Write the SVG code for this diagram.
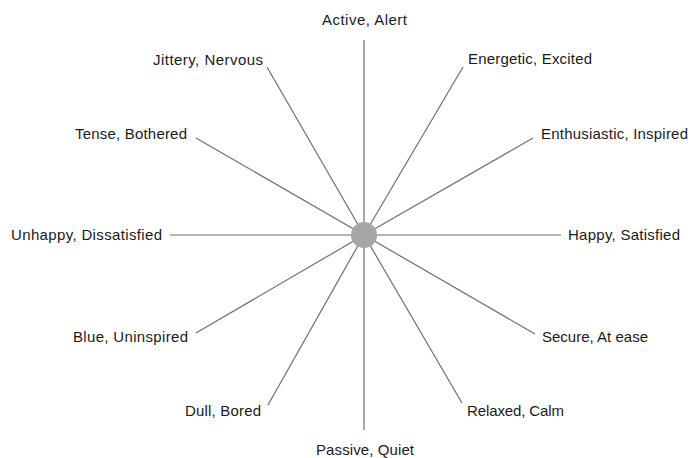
<svg xmlns="http://www.w3.org/2000/svg" width="693" height="458" viewBox="0 0 693 458">
<style>
.spoke{stroke:#6e6e6e;stroke-width:1.2;fill:none}
text{font-family:"Liberation Sans",Arial,sans-serif;font-size:15px;fill:#1a1a1a}
.e{text-anchor:end}.m{text-anchor:middle}
</style>
<rect width="693" height="458" fill="#fff"/>
<g id="connectors">
<line class="spoke" x1="364" y1="40" x2="364" y2="430"/>
<line class="spoke" x1="170" y1="235" x2="561" y2="235"/>
<line class="spoke" x1="267" y1="67" x2="364" y2="235"/>
<line class="spoke" x1="196" y1="138" x2="364" y2="235"/>
<line class="spoke" x1="463" y1="67" x2="364" y2="235"/>
<line class="spoke" x1="533" y1="138" x2="364" y2="235"/>
<line class="spoke" x1="196" y1="333" x2="364" y2="235"/>
<line class="spoke" x1="268" y1="405" x2="364" y2="235"/>
<line class="spoke" x1="535" y1="334" x2="364" y2="235"/>
<line class="spoke" x1="462" y1="403" x2="364" y2="235"/>
</g>
<g id="center"><circle cx="364" cy="235" r="13" fill="#a6a6a6"/></g>
<g id="active"><text x="322" y="25" textLength="85">Active, Alert</text></g>
<g id="jittery"><text x="153" y="65" textLength="110">Jittery, Nervous</text></g>
<g id="tense"><text x="75" y="139" textLength="112">Tense, Bothered</text></g>
<g id="energetic"><text x="468" y="64" textLength="124">Energetic, Excited</text></g>
<g id="enthusiastic"><text x="541" y="139" textLength="147">Enthusiastic, Inspired</text></g>
<g id="unhappy"><text x="11" y="240" textLength="151">Unhappy, Dissatisfied</text></g>
<g id="happy"><text x="568" y="240" textLength="112">Happy, Satisfied</text></g>
<g id="blue"><text x="73" y="342" textLength="115">Blue, Uninspired</text></g>
<g id="secure"><text x="542" y="342" textLength="106">Secure, At ease</text></g>
<g id="dull"><text x="185" y="416" textLength="76">Dull, Bored</text></g>
<g id="relaxed"><text x="467" y="416" textLength="97">Relaxed, Calm</text></g>
<g id="passive"><text x="316" y="455" textLength="98">Passive, Quiet</text></g>
</svg>
